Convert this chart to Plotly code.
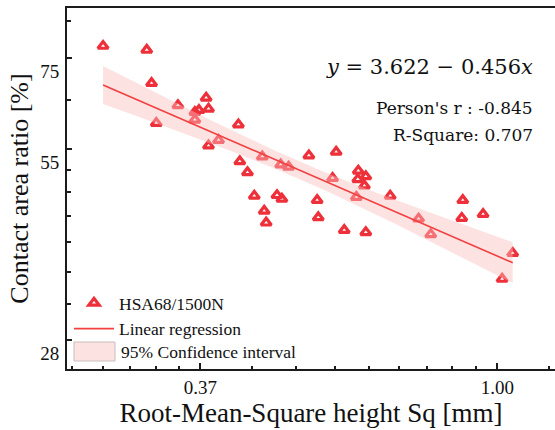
import math
import numpy as np
import plotly.graph_objects as go

# ---- data ----
sq_mm = [0.265, 0.307, 0.312, 0.341, 0.317, 0.375, 0.378, 0.366, 0.361, 0.361,
         0.418, 0.378, 0.391, 0.420, 0.431, 0.453, 0.482, 0.495, 0.441, 0.456,
         0.459, 0.476, 0.484, 0.530, 0.581, 0.574, 0.545, 0.547, 0.597, 0.626,
         0.642, 0.625, 0.639, 0.622, 0.642, 0.697, 0.767, 0.799, 0.890, 0.887,
         0.953, 1.053, 1.016]
contact_ratio = [78.7, 77.6, 69.0, 63.8, 59.9, 65.5, 63.0, 62.7, 62.3, 60.6,
                 59.6, 55.3, 56.4, 52.3, 50.3, 53.2, 51.7, 51.3, 46.3, 43.9,
                 42.1, 46.4, 45.8, 53.4, 54.1, 49.3, 45.6, 42.9, 41.0, 50.6,
                 49.6, 49.1, 48.0, 46.1, 40.7, 46.3, 42.7, 40.4, 45.6, 42.8,
                 43.4, 37.8, 34.5]
intercept = 3.622
slope = -0.456
pearson_r = -0.845
r_square = 0.707
series_name = "HSA68/1500N"
line_name = "Linear regression"
band_name = "95% Confidence interval"

x_tick_vals = [math.exp(-1), 1.0]
x_tick_text = ["0.37", "1.00"]
y_tick_text = ["28", "55", "75"]

# ---- regression line & 95% CI (in ln-ln space) ----
lnx = np.log(np.array(sq_mm))
lny = np.log(np.array(contact_ratio))
n = len(lnx)
res = lny - (intercept + slope * lnx)
s = math.sqrt(float(np.sum(res ** 2)) / (n - 2))
xbar = float(np.mean(lnx))
sxx = float(np.sum((lnx - xbar) ** 2))
t_crit = 2.02
gx = np.linspace(lnx.min(), lnx.max(), 80)
gy = intercept + slope * gx
half = t_crit * s * np.sqrt(1.0 / n + (gx - xbar) ** 2 / sxx)
line_x = np.exp(gx)
line_y = np.exp(gy)
band_x = np.concatenate([line_x, line_x[::-1]])
band_y = np.concatenate([np.exp(gy + half), np.exp(gy - half)[::-1]])

# ---- ticks (Origin-style ln axes with linear minor subdivisions) ----
def minor_ticks(k0, k1):
    out = []
    for k in range(k0, k1):
        a, b = math.exp(k), math.exp(k + 1)
        out += [a + (b - a) * i / 9 for i in range(1, 9)]
    return out

x_minor = minor_ticks(-2, 1)
e3, e4, e5 = math.exp(3), math.exp(4), math.exp(5)
y_tick_vals = [e3 + (e4 - e3) * 2 / 9, e4, e4 + (e5 - e4) * 2 / 9]
y_minor = [v for v in minor_ticks(3, 5) if all(abs(v - t) > 1e-6 for t in y_tick_vals)]

red = "rgb(238,48,58)"
band_fill = "rgba(250,190,190,0.45)"
fig = go.Figure()
fig.add_trace(go.Scatter(
    x=sq_mm, y=contact_ratio, mode="markers", name=series_name, legendrank=1,
    marker=dict(symbol="triangle-up-open", size=9, color=red,
                line=dict(color=red, width=3.2)),
))
fig.add_trace(go.Scatter(
    x=band_x, y=band_y, mode="lines", fill="toself", name=band_name, showlegend=False,
    fillcolor=band_fill, line=dict(width=0), hoverinfo="skip",
))
fig.add_trace(go.Scatter(
    x=line_x, y=line_y, mode="lines", name=line_name, legendrank=2,
    line=dict(color="rgb(242,64,64)", width=1.6),
))

# plot-area geometry (px) used for placing the decorations
W, H = 555, 430
L, R, T, B = 67, 0, 8, 61
PW, PH = W - L - R, H - T - B
def px(xp):
    return (xp - L) / PW
def py(yp):
    return (H - B - yp) / PH

serif = "Liberation Serif"
axis_col = "#1c1c1c"
leg_font = 17.5
fig.update_layout(
    width=W, height=H,
    margin=dict(l=L, r=R, t=T, b=B),
    paper_bgcolor="white", plot_bgcolor="white",
    font=dict(family=serif, color="#111", size=19),
    showlegend=True,
    legend=dict(x=px(69), y=py(285), xanchor="left", yanchor="top",
                bgcolor="rgba(0,0,0,0)", font=dict(family=serif, size=leg_font, color="#111"),
                itemwidth=40, tracegroupgap=0),
    xaxis=dict(
        type="log", range=[-0.62951, 0.08429],
        showline=True, linecolor=axis_col, linewidth=2, mirror=True,
        showgrid=False, zeroline=False,
        tickmode="array", tickvals=x_tick_vals, ticktext=x_tick_text,
        ticks="inside", ticklen=6, tickwidth=1.5, tickcolor=axis_col,
        minor=dict(tickmode="array", tickvals=x_minor, ticks="inside",
                   ticklen=3.5, tickwidth=1.5, tickcolor=axis_col, showgrid=False),
        tickfont=dict(family=serif, size=19, color="#111"),
        title=dict(text="Root-Mean-Square height Sq [mm]",
                   font=dict(family=serif, size=27, color="#111"), standoff=3),
    ),
    yaxis=dict(
        type="log", range=[1.39944, 1.95441],
        showline=True, linecolor=axis_col, linewidth=2, mirror=False,
        showgrid=False, zeroline=False,
        tickmode="array", tickvals=y_tick_vals, ticktext=y_tick_text,
        ticks="inside", ticklen=5, tickwidth=1.5, tickcolor=axis_col,
        ticklabelshift=13, ticklabelstandoff=2,
        minor=dict(tickmode="array", tickvals=y_minor, ticks="inside",
                   ticklen=3.5, tickwidth=1.5, tickcolor=axis_col, showgrid=False),
        tickfont=dict(family=serif, size=19, color="#111"),
        title=dict(text="Contact area ratio [%]",
                   font=dict(family=serif, size=26, color="#111"), standoff=4),
    ),
)

# third legend entry (confidence band swatch) drawn as a box + label
fig.add_shape(type="rect", xref="paper", yref="paper",
              x0=px(74), x1=px(115), y0=py(361), y1=py(342),
              fillcolor=band_fill, line=dict(color="rgb(200,190,190)", width=1))
fig.add_annotation(xref="paper", yref="paper", x=px(119), y=py(352),
                   xanchor="left", yanchor="middle", showarrow=False, text=band_name,
                   font=dict(family=serif, size=leg_font, color="#111"))

eq_text = f"<i>y</i> = {intercept:.3f} \u2212 {abs(slope):.3f}<i>x</i>"
fig.add_annotation(xref="paper", yref="paper", x=px(535), y=py(67),
                   xanchor="right", yanchor="middle", showarrow=False, text=eq_text,
                   font=dict(family="DejaVu Serif", size=21, color="#111"))
fig.add_annotation(xref="paper", yref="paper", x=px(535), y=py(108),
                   xanchor="right", yanchor="middle", showarrow=False,
                   text=f"Person's r : {pearson_r:.3f}",
                   font=dict(family="DejaVu Serif", size=17, color="#111"))
fig.add_annotation(xref="paper", yref="paper", x=px(535), y=py(135),
                   xanchor="right", yanchor="middle", showarrow=False,
                   text=f"R-Square: {r_square:.3f}",
                   font=dict(family="DejaVu Serif", size=17, color="#111"))

fig.write_html("out.html")
